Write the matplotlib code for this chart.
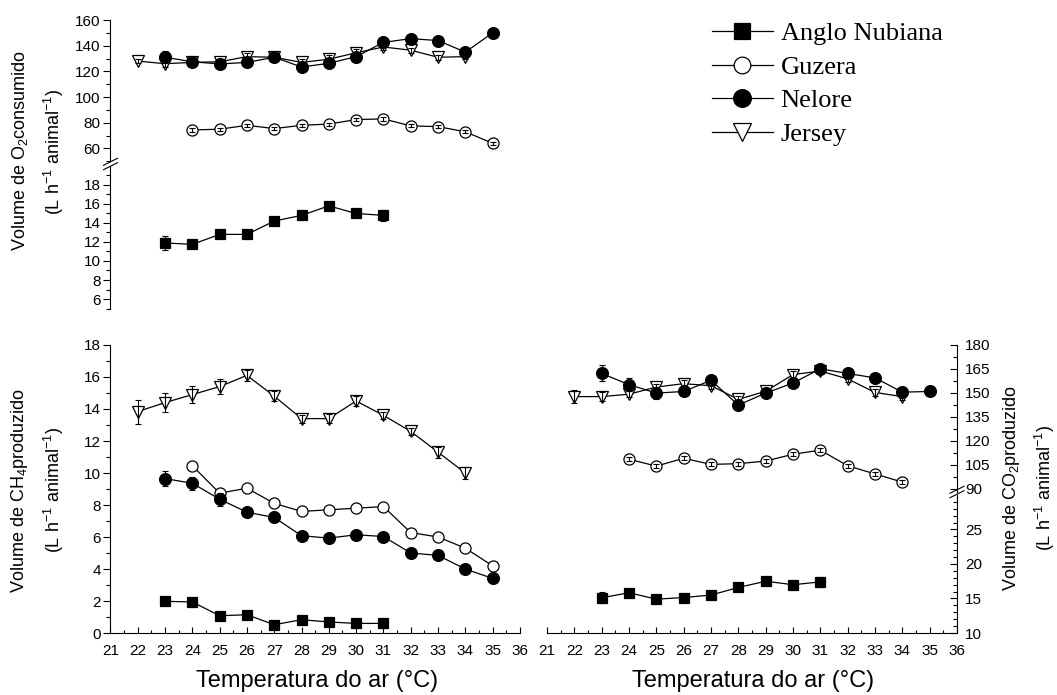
import matplotlib
matplotlib.use('Agg')
import matplotlib.pyplot as plt
from matplotlib.lines import Line2D
from matplotlib.ticker import MultipleLocator, FixedLocator

plt.rcParams['font.family'] = ['Liberation Sans', 'DejaVu Sans']
plt.rcParams['mathtext.default'] = 'regular'

# Temperaturas do ar (°C) de cada raca
t_anglo = [23, 24, 25, 26, 27, 28, 29, 30, 31]
t_guzera = [24, 25, 26, 27, 28, 29, 30, 31, 32, 33, 34, 35]
t_guzera_co2 = [24, 25, 26, 27, 28, 29, 30, 31, 32, 33, 34]
t_nelore = [23, 24, 25, 26, 27, 28, 29, 30, 31, 32, 33, 34, 35]
t_jersey = [22, 23, 24, 25, 26, 27, 28, 29, 30, 31, 32, 33, 34]

# O2 consumido
o2_anglo = [11.9, 11.75, 12.8, 12.8, 14.2, 14.8, 15.8, 15.0, 14.8]
o2_anglo_err = [0.7, 0.3, 0.2, 0.2, 0.2, 0.2, 0.2, 0.3, 0.6]
o2_guzera = [74.4, 75.0, 78.0, 75.5, 78.0, 79.0, 82.5, 83.0, 77.6, 77.0, 73.0, 64.0]
o2_guzera_err = [1.2, 1.2, 1.3, 1.2, 1.3, 1.2, 1.3, 1.3, 1.2, 1.2, 1.2, 1.2]
o2_nelore = [131.0, 127.5, 125.8, 127.0, 131.0, 123.4, 126.3, 131.5, 142.6, 145.5, 144.0, 135.0, 150.0]
o2_nelore_err = [4.5, 2, 2, 2, 2, 2, 2, 2, 2, 2, 2, 2, 2]
o2_jersey = [128.0, 126.0, 127.0, 127.5, 131.5, 131.0, 127.0, 129.5, 134.5, 139.0, 136.5, 131.0, 131.5]
o2_jersey_err = [1.5, 2.5, 2, 2.5, 3, 2.5, 3, 3, 3, 2, 2, 2, 2]

# CH4 produzido
ch4_anglo = [1.98, 1.94, 1.08, 1.14, 0.52, 0.83, 0.69, 0.60, 0.60]
ch4_anglo_err = [0.1, 0.1, 0.1, 0.1, 0.1, 0.1, 0.1, 0.1, 0.1]
ch4_guzera = [10.45, 8.74, 9.05, 8.1, 7.6, 7.7, 7.8, 7.9, 6.28, 6.0, 5.3, 4.2]
ch4_guzera_err = [0.15, 0.15, 0.15, 0.15, 0.15, 0.15, 0.15, 0.15, 0.15, 0.15, 0.15, 0.15]
ch4_nelore = [9.65, 9.36, 8.36, 7.55, 7.22, 6.08, 5.93, 6.14, 6.03, 5.0, 4.85, 4.0, 3.41]
ch4_nelore_err = [0.45, 0.4, 0.4, 0.15, 0.15, 0.15, 0.15, 0.15, 0.15, 0.15, 0.15, 0.15, 0.15]
ch4_jersey = [13.84, 14.4, 14.9, 15.4, 16.1, 14.8, 13.4, 13.4, 14.5, 13.6, 12.6, 11.3, 10.0]
ch4_jersey_err = [0.75, 0.6, 0.55, 0.45, 0.35, 0.3, 0.25, 0.3, 0.3, 0.2, 0.2, 0.35, 0.4]

# CO2 produzido
co2_anglo = [15.1, 15.84, 14.9, 15.14, 15.5, 16.6, 17.5, 17.0, 17.4]
co2_anglo_err = [0.8, 0.3, 0.3, 0.3, 0.3, 0.3, 0.3, 0.3, 0.7]
co2_guzera = [108.5, 104.2, 109.1, 105.3, 105.7, 107.4, 111.6, 114.2, 104.4, 99.3, 94.2]
co2_guzera_err = [1.3, 1.3, 1.3, 1.3, 1.3, 1.3, 1.3, 1.3, 1.3, 1.3, 1.3]
co2_nelore = [162.2, 155.2, 149.9, 150.9, 157.9, 142.4, 149.9, 156.2, 165.1, 162.2, 159.4, 150.5, 150.9]
co2_nelore_err = [5, 4, 4, 2, 2, 2, 2, 2, 2, 2, 2, 2, 2]
co2_jersey = [147.7, 147.7, 149.2, 153.7, 155.8, 154.5, 146.0, 151.0, 161.5, 163.7, 158.8, 150.3, 147.7]
co2_jersey_err = [4, 3, 2, 2, 2, 2, 2, 2, 2, 2, 2, 2, 2]

racas = ['Anglo Nubiana', 'Guzera', 'Nelore', 'Jersey']

W, H = 1057, 695

# estilo de cada raca: marcador, preenchimento, tamanho
estilo = {
    'Anglo Nubiana': ('s', 'black', 7.5),
    'Guzera': ('o', 'white', 8),
    'Nelore': ('o', 'black', 8.5),
    'Jersey': ('v', 'white', 9),
}


def serie(ax, raca, t, v, err, por_cima=True):
    m, fc, ms = estilo[raca]
    ax.plot(t, v, '-', color='black', lw=0.9, marker=m, mfc=fc, mec='black',
            mew=0.9, ms=ms, zorder=2)
    # barras de erro por cima ou por baixo do marcador
    ax.errorbar(t, v, yerr=err, fmt='none', ecolor='black', elinewidth=0.8,
                capsize=2.5, capthick=0.8, zorder=3 if por_cima else 1)


def eixo(rect):
    ax = fig.add_axes(rect)
    for s in ['top', 'right']:
        ax.spines[s].set_visible(False)
    for s in ax.spines.values():
        s.set_linewidth(0.8)
    ax.tick_params(axis='y', which='major', direction='out', length=5, width=0.8,
                   labelsize=11, pad=2)
    ax.tick_params(axis='y', which='minor', direction='out', length=3, width=0.8)
    ax.tick_params(axis='x', which='major', direction='in', length=4, width=0.8,
                   labelsize=11, pad=8)
    ax.tick_params(axis='x', which='minor', direction='in', length=2.5, width=0.8)
    ax.set_xlim(21, 36)
    ax.xaxis.set_major_locator(MultipleLocator(1))
    ax.xaxis.set_minor_locator(MultipleLocator(0.5))
    return ax


def sem_x(ax):
    ax.spines['bottom'].set_visible(False)
    ax.tick_params(axis='x', which='both', bottom=False, labelbottom=False)


def lado_direito(ax):
    ax.spines['left'].set_visible(False)
    ax.spines['right'].set_visible(True)
    ax.spines['right'].set_linewidth(0.8)
    ax.yaxis.tick_right()
    ax.tick_params(axis='y', which='major', direction='in', length=5, pad=6)
    ax.tick_params(axis='y', which='minor', direction='in', length=3)


def quebra(x_px, y_px):
    for dy in (-2.2, 2.2):
        fig.add_artist(Line2D([(x_px - 7) / W, (x_px + 7) / W],
                              [1 - (y_px + 3.5 + dy) / H, 1 - (y_px - 3.5 + dy) / H],
                              transform=fig.transFigure, color='black', lw=0.8))


fig = plt.figure(figsize=(W / 100, H / 100), dpi=100)

# --- O2 consumido (eixo quebrado) ---
ax_o2a = eixo([0.1045, 0.7679, 0.3874, 0.2033])
ax_o2b = eixo([0.1045, 0.5561, 0.3874, 0.2051])
sem_x(ax_o2a)
sem_x(ax_o2b)
serie(ax_o2a, 'Guzera', t_guzera, o2_guzera, o2_guzera_err)
serie(ax_o2a, 'Jersey', t_jersey, o2_jersey, o2_jersey_err)
serie(ax_o2a, 'Nelore', t_nelore, o2_nelore, o2_nelore_err)
serie(ax_o2b, 'Anglo Nubiana', t_anglo, o2_anglo, o2_anglo_err)
ax_o2a.set_ylim(50, 160)
ax_o2a.yaxis.set_major_locator(MultipleLocator(20))
ax_o2a.yaxis.set_minor_locator(MultipleLocator(10))
ax_o2b.set_ylim(5, 20)
ax_o2b.yaxis.set_major_locator(FixedLocator([6, 8, 10, 12, 14, 16, 18]))
ax_o2b.yaxis.set_minor_locator(FixedLocator(list(range(5, 20))))
quebra(110.5, 164)

# --- CH4 produzido ---
ax_ch4 = eixo([0.1045, 0.0892, 0.3874, 0.4144])
serie(ax_ch4, 'Anglo Nubiana', t_anglo, ch4_anglo, ch4_anglo_err)
serie(ax_ch4, 'Guzera', t_guzera, ch4_guzera, ch4_guzera_err, por_cima=False)
serie(ax_ch4, 'Nelore', t_nelore, ch4_nelore, ch4_nelore_err)
serie(ax_ch4, 'Jersey', t_jersey, ch4_jersey, ch4_jersey_err)
ax_ch4.set_ylim(0, 18)
ax_ch4.yaxis.set_major_locator(MultipleLocator(2))
ax_ch4.yaxis.set_minor_locator(MultipleLocator(1))

# --- CO2 produzido (eixo quebrado, a direita) ---
ax_co2a = eixo([0.5175, 0.2921, 0.3879, 0.2115])
ax_co2b = eixo([0.5175, 0.0892, 0.3879, 0.1986])
lado_direito(ax_co2a)
lado_direito(ax_co2b)
sem_x(ax_co2a)
serie(ax_co2a, 'Guzera', t_guzera_co2, co2_guzera, co2_guzera_err)
serie(ax_co2a, 'Jersey', t_jersey, co2_jersey, co2_jersey_err)
serie(ax_co2a, 'Nelore', t_nelore, co2_nelore, co2_nelore_err)
serie(ax_co2b, 'Anglo Nubiana', t_anglo, co2_anglo, co2_anglo_err)
ax_co2a.set_ylim(88, 180)
ax_co2a.yaxis.set_major_locator(MultipleLocator(15))
ax_co2a.yaxis.set_minor_locator(MultipleLocator(7.5))
ax_co2b.set_ylim(10, 30)
ax_co2b.yaxis.set_major_locator(FixedLocator([10, 15, 20, 25]))
ax_co2b.yaxis.set_minor_locator(FixedLocator(list(range(10, 30))))
quebra(957, 492)

# --- rotulos ---
fig.text(20 / W, 1 - 150 / H, 'Volume de O$_2$consumido', rotation=90,
         ha='center', va='center', fontsize=13)
fig.text(54 / W, 1 - 152 / H, '(L h$^{-1}$ animal$^{-1}$)', rotation=90,
         ha='center', va='center', fontsize=13)
fig.text(20 / W, 1 - 490 / H, 'Volume de CH$_4$produzido', rotation=90,
         ha='center', va='center', fontsize=13)
fig.text(54 / W, 1 - 490 / H, '(L h$^{-1}$ animal$^{-1}$)', rotation=90,
         ha='center', va='center', fontsize=13)
fig.text(1012 / W, 1 - 488 / H, 'Volume de CO$_2$produzido', rotation=90,
         ha='center', va='center', fontsize=13)
fig.text(1045 / W, 1 - 488 / H, '(L h$^{-1}$ animal$^{-1}$)', rotation=90,
         ha='center', va='center', fontsize=13)
fig.text(317 / W, 1 - 681 / H, 'Temperatura do ar (°C)', ha='center', va='center',
         fontsize=17)
fig.text(753 / W, 1 - 681 / H, 'Temperatura do ar (°C)', ha='center', va='center',
         fontsize=17)

# --- legenda ---
handles = []
for r in racas:
    m, fc, ms = estilo[r]
    handles.append(Line2D([], [], color='black', lw=0.9, marker=m, mfc=fc, mec='black',
                          mew=0.9, ms=ms * 1.5))
fig.legend(handles, racas, loc='upper left', bbox_to_anchor=(712 / W, 1 - 22 / H),
           frameon=False, prop={'family': 'Liberation Serif', 'size': 19},
           handlelength=2.3, handletextpad=0.3, labelspacing=0.38,
           borderpad=0, borderaxespad=0)

fig.savefig('out.png', dpi=100)
